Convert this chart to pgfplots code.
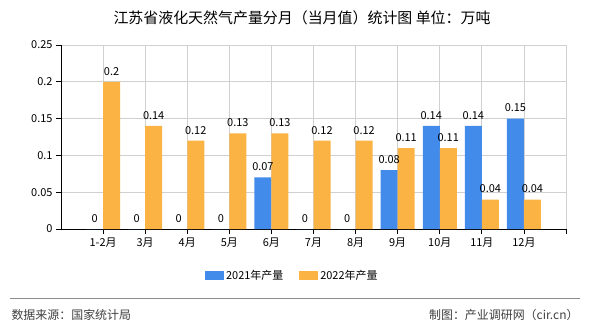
\documentclass[border=0pt]{standalone}
\usepackage{pgfplots}
\pgfplotsset{compat=1.18}
\usepackage{fontspec}
\setmainfont{Noto Sans CJK SC}
\definecolor{cblue}{HTML}{428BEA}
\definecolor{corange}{HTML}{FBB444}
\definecolor{cgrid}{HTML}{D0D0D0}
\begin{document}
\begin{tikzpicture}[x=1bp,y=1bp]
\fill[white] (0,0) rectangle (590,330);
\node[font=\fontsize{15}{17}\selectfont] at (302,312) {江苏省液化天然气产量分月（当月值）统计图 单位：万吨};
\draw[gray!90,line width=1bp] (10,32) -- (580,32);
\node[anchor=west,font=\fontsize{12}{14}\selectfont,text=black!75] at (8,15) {数据来源：国家统计局};
\node[anchor=east,font=\fontsize{12}{14}\selectfont,text=black!75] at (582,15) {制图：产业调研网（cir.cn）};
\begin{axis}[
  at={(61bp,101bp)}, anchor=south west,
  scale only axis, width=505bp, height=184bp,
  xmin=0, xmax=12, ymin=0, ymax=0.25,
  ybar=0pt, bar width=17bp,
  axis x line=bottom, axis y line=left,
  axis line style={black,-, line width=0.8bp},
  xtick={1,...,11},
  xticklabels={1-2月,3月,4月,5月,6月,7月,8月,9月,10月,11月,12月},
  extra x ticks={12}, extra x tick labels={},
  ytick={0,0.05,0.1,0.15,0.2,0.25},
  yticklabels={0,0.05,0.1,0.15,0.2,0.25},
  tick align=outside, major tick length=5bp,
  tick style={black, line width=0.8bp},
  grid=major, grid style={cgrid, line width=0.8bp},
  extra x tick style={grid=major},
  ticklabel style={font=\fontsize{11}{13}\selectfont},
  nodes near coords={\pgfmathprintnumber[fixed,precision=2,assume math mode=true]{\pgfplotspointmeta}},
  nodes near coords style={font=\fontsize{11}{13}\selectfont, black, yshift=3bp},
  legend style={at={(0.458,-0.255)}, anchor=center, draw=none, legend columns=2,
    font=\fontsize{11}{13}\selectfont, /tikz/every even column/.append style={column sep=14bp}},
  legend image code/.code={\fill[#1] (0bp,-4.5bp) rectangle (19bp,4.5bp);},
]
\addplot[fill=cblue, draw=none] coordinates {(1,0) (2,0) (3,0) (4,0) (5,0.07) (6,0) (7,0) (8,0.08) (9,0.14) (10,0.14) (11,0.15)};
\addplot[fill=corange, draw=none] coordinates {(1,0.2) (2,0.14) (3,0.12) (4,0.13) (5,0.13) (6,0.12) (7,0.12) (8,0.11) (9,0.11) (10,0.04) (11,0.04)};
\legend{2021年产量,2022年产量}
\end{axis}
\end{tikzpicture}
\end{document}
